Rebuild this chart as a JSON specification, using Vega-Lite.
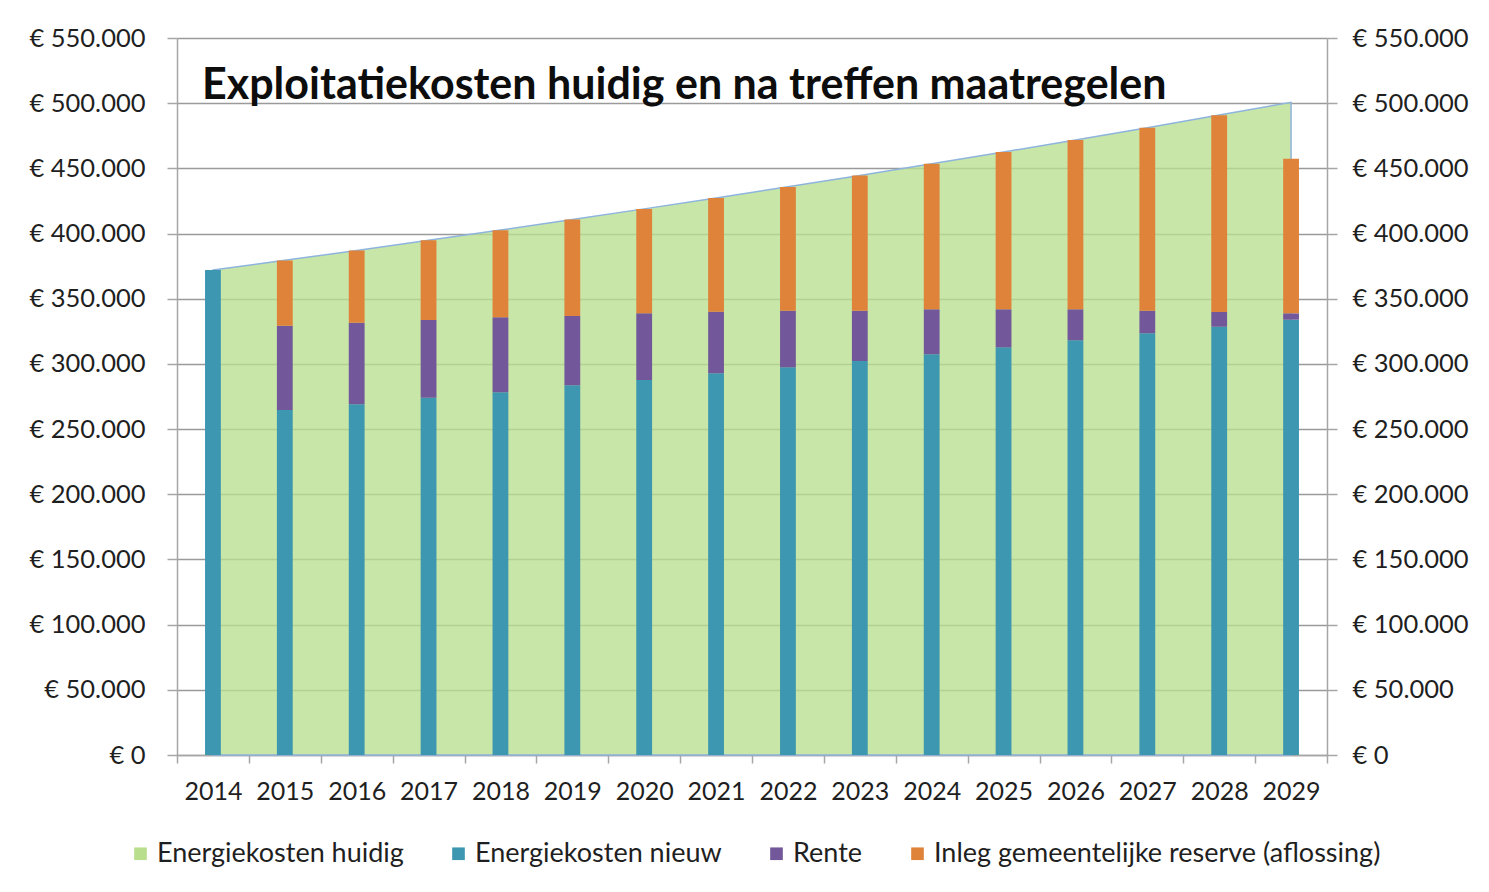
{
  "$schema": "https://vega.github.io/schema/vega-lite/v6.json",
  "width": 1150,
  "height": 717,
  "autosize": {"type": "none"},
  "padding": {"left": 177, "top": 38, "right": 162, "bottom": 137},
  "background": "white",
  "title": {
    "text": "Exploitatiekosten huidig en na treffen maatregelen",
    "font": "Lato",
    "fontSize": 43,
    "fontWeight": "bold",
    "color": "#0d0d0d",
    "anchor": "start",
    "frame": "group",
    "dx": 25,
    "offset": -82
  },
  "data": {
    "values": [
      {"jaar": "2014", "serie": "Energiekosten huidig", "waarde": 372000},
      {"jaar": "2015", "serie": "Energiekosten huidig", "waarde": 379440},
      {"jaar": "2016", "serie": "Energiekosten huidig", "waarde": 387030},
      {"jaar": "2017", "serie": "Energiekosten huidig", "waarde": 394770},
      {"jaar": "2018", "serie": "Energiekosten huidig", "waarde": 402665},
      {"jaar": "2019", "serie": "Energiekosten huidig", "waarde": 410720},
      {"jaar": "2020", "serie": "Energiekosten huidig", "waarde": 418930},
      {"jaar": "2021", "serie": "Energiekosten huidig", "waarde": 427310},
      {"jaar": "2022", "serie": "Energiekosten huidig", "waarde": 435860},
      {"jaar": "2023", "serie": "Energiekosten huidig", "waarde": 444570},
      {"jaar": "2024", "serie": "Energiekosten huidig", "waarde": 453470},
      {"jaar": "2025", "serie": "Energiekosten huidig", "waarde": 462540},
      {"jaar": "2026", "serie": "Energiekosten huidig", "waarde": 471790},
      {"jaar": "2027", "serie": "Energiekosten huidig", "waarde": 481220},
      {"jaar": "2028", "serie": "Energiekosten huidig", "waarde": 490850},
      {"jaar": "2029", "serie": "Energiekosten huidig", "waarde": 500660},

      {"jaar": "2014", "serie": "Energiekosten nieuw", "waarde": 372000},
      {"jaar": "2015", "serie": "Energiekosten nieuw", "waarde": 264700},
      {"jaar": "2016", "serie": "Energiekosten nieuw", "waarde": 269000},
      {"jaar": "2017", "serie": "Energiekosten nieuw", "waarde": 274100},
      {"jaar": "2018", "serie": "Energiekosten nieuw", "waarde": 278200},
      {"jaar": "2019", "serie": "Energiekosten nieuw", "waarde": 283600},
      {"jaar": "2020", "serie": "Energiekosten nieuw", "waarde": 287700},
      {"jaar": "2021", "serie": "Energiekosten nieuw", "waarde": 292800},
      {"jaar": "2022", "serie": "Energiekosten nieuw", "waarde": 297400},
      {"jaar": "2023", "serie": "Energiekosten nieuw", "waarde": 302200},
      {"jaar": "2024", "serie": "Energiekosten nieuw", "waarde": 307400},
      {"jaar": "2025", "serie": "Energiekosten nieuw", "waarde": 312700},
      {"jaar": "2026", "serie": "Energiekosten nieuw", "waarde": 318100},
      {"jaar": "2027", "serie": "Energiekosten nieuw", "waarde": 323500},
      {"jaar": "2028", "serie": "Energiekosten nieuw", "waarde": 328500},
      {"jaar": "2029", "serie": "Energiekosten nieuw", "waarde": 333900},

      {"jaar": "2015", "serie": "Rente", "waarde": 64600},
      {"jaar": "2016", "serie": "Rente", "waarde": 62600},
      {"jaar": "2017", "serie": "Rente", "waarde": 59600},
      {"jaar": "2018", "serie": "Rente", "waarde": 57500},
      {"jaar": "2019", "serie": "Rente", "waarde": 53200},
      {"jaar": "2020", "serie": "Rente", "waarde": 51100},
      {"jaar": "2021", "serie": "Rente", "waarde": 47300},
      {"jaar": "2022", "serie": "Rente", "waarde": 43400},
      {"jaar": "2023", "serie": "Rente", "waarde": 38600},
      {"jaar": "2024", "serie": "Rente", "waarde": 34500},
      {"jaar": "2025", "serie": "Rente", "waarde": 29200},
      {"jaar": "2026", "serie": "Rente", "waarde": 23800},
      {"jaar": "2027", "serie": "Rente", "waarde": 17300},
      {"jaar": "2028", "serie": "Rente", "waarde": 11300},
      {"jaar": "2029", "serie": "Rente", "waarde": 4900},

      {"jaar": "2015", "serie": "Inleg gemeentelijke reserve (aflossing)", "waarde": 50100},
      {"jaar": "2016", "serie": "Inleg gemeentelijke reserve (aflossing)", "waarde": 55400},
      {"jaar": "2017", "serie": "Inleg gemeentelijke reserve (aflossing)", "waarde": 61100},
      {"jaar": "2018", "serie": "Inleg gemeentelijke reserve (aflossing)", "waarde": 66900},
      {"jaar": "2019", "serie": "Inleg gemeentelijke reserve (aflossing)", "waarde": 73900},
      {"jaar": "2020", "serie": "Inleg gemeentelijke reserve (aflossing)", "waarde": 80100},
      {"jaar": "2021", "serie": "Inleg gemeentelijke reserve (aflossing)", "waarde": 87200},
      {"jaar": "2022", "serie": "Inleg gemeentelijke reserve (aflossing)", "waarde": 95000},
      {"jaar": "2023", "serie": "Inleg gemeentelijke reserve (aflossing)", "waarde": 103800},
      {"jaar": "2024", "serie": "Inleg gemeentelijke reserve (aflossing)", "waarde": 111600},
      {"jaar": "2025", "serie": "Inleg gemeentelijke reserve (aflossing)", "waarde": 120600},
      {"jaar": "2026", "serie": "Inleg gemeentelijke reserve (aflossing)", "waarde": 129900},
      {"jaar": "2027", "serie": "Inleg gemeentelijke reserve (aflossing)", "waarde": 140400},
      {"jaar": "2028", "serie": "Inleg gemeentelijke reserve (aflossing)", "waarde": 151000},
      {"jaar": "2029", "serie": "Inleg gemeentelijke reserve (aflossing)", "waarde": 118600}
    ]
  },
  "layer": [
    {
      "transform": [{"filter": "datum.serie === 'Energiekosten huidig'"}],
      "mark": {"type": "area", "fillOpacity": 0.78, "stroke": "#8eb4de", "strokeWidth": 1.5, "strokeOpacity": 1},
      "encoding": {
        "x": {
          "field": "jaar", "type": "ordinal", "bandPosition": 0.5,
          "scale": {"paddingInner": 0, "paddingOuter": 0},
          "axis": {
            "title": null, "labelAngle": 0, "labelFont": "Lato", "labelFontSize": 25, "labelColor": "#1f1f1f",
            "domainColor": "#a6a6a6", "domainWidth": 1.5, "tickColor": "#a6a6a6", "tickWidth": 1.5, "tickSize": 8,
            "tickBand": "extent", "labelPadding": 16, "grid": false
          }
        },
        "y": {
          "field": "waarde", "type": "quantitative", "stack": null,
          "scale": {"domain": [0, 550000], "nice": false},
          "axis": {
            "orient": "left", "title": null, "values": [0, 50000, 100000, 150000, 200000, 250000, 300000, 350000, 400000, 450000, 500000, 550000],
            "labelExpr": "'€ ' + replace(format(datum.value, ',d'), /,/g, '.')",
            "labelFont": "Lato", "labelFontSize": 25.5, "labelColor": "#1f1f1f", "labelPadding": 22,
            "grid": true, "gridColor": "#9a9a9a", "gridWidth": 1.5,
            "domainColor": "#a6a6a6", "domainWidth": 1.5, "tickColor": "#a6a6a6", "tickWidth": 1.5, "tickSize": 10
          }
        },
        "color": {
          "field": "serie", "type": "nominal",
          "scale": {
            "domain": ["Energiekosten huidig", "Energiekosten nieuw", "Rente", "Inleg gemeentelijke reserve (aflossing)"],
            "range": ["#b9df8e", "#3d97b0", "#72589a", "#df833a"]
          },
          "legend": {
            "title": null, "orient": "none", "direction": "horizontal", "legendX": -50, "legendY": 802,
            "symbolType": "square", "symbolSize": 160, "symbolOpacity": 1, "symbolStrokeWidth": 0,
            "labelFont": "Lato", "labelFontSize": 27, "labelColor": "#1f1f1f", "labelOffset": 3,
            "columnPadding": 41, "labelLimit": 700
          }
        }
      }
    },
    {
      "transform": [
        {"filter": "datum.serie !== 'Energiekosten huidig'"},
        {"calculate": "indexof(['Energiekosten nieuw', 'Rente', 'Inleg gemeentelijke reserve (aflossing)'], datum.serie)", "as": "volgorde"}
      ],
      "mark": {"type": "bar", "width": {"band": 0.22}},
      "encoding": {
        "x": {"field": "jaar", "type": "ordinal"},
        "y": {
          "field": "waarde", "type": "quantitative", "stack": "zero",
          "scale": {"domain": [0, 550000], "nice": false},
          "axis": {
            "orient": "right", "title": null, "values": [0, 50000, 100000, 150000, 200000, 250000, 300000, 350000, 400000, 450000, 500000, 550000],
            "labelExpr": "'€ ' + replace(format(datum.value, ',d'), /,/g, '.')",
            "labelFont": "Lato", "labelFontSize": 25.5, "labelColor": "#1f1f1f", "labelPadding": 15,
            "grid": false,
            "domainColor": "#a6a6a6", "domainWidth": 1.5, "tickColor": "#a6a6a6", "tickWidth": 1.5, "tickSize": 10
          }
        },
        "color": {"field": "serie", "type": "nominal"},
        "order": {"field": "volgorde", "type": "quantitative", "sort": "ascending"}
      }
    }
  ],
  "resolve": {"scale": {"y": "independent"}, "axis": {"y": "independent"}},
  "config": {"view": {"stroke": null}}
}
